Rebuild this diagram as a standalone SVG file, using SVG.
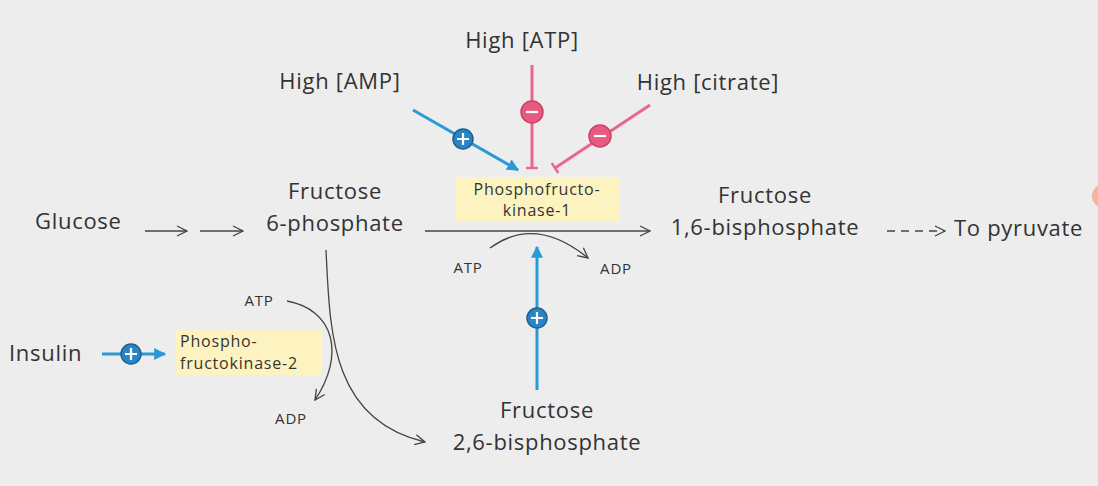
<svg xmlns="http://www.w3.org/2000/svg" width="1098" height="486" viewBox="0 0 1098 486">
<style>
text{font-family:"Open Sans","Noto Sans",sans-serif;fill:#333}
.big{font-size:22px;letter-spacing:0.7px}
.sm{font-size:15px;letter-spacing:0.8px}
.bx{font-size:16px;letter-spacing:0.8px}
.box{fill:#fdf3c0}
.ln{fill:none;stroke:#444;stroke-width:1.3}
.bl{fill:none;stroke:#2a9ad6;stroke-width:3}
.rd{fill:none;stroke:#e8678a;stroke-width:3}
.pc{fill:#2a85c4;stroke:#1d5f8f;stroke-width:1.5}
.mc{fill:#e85a80;stroke:#c94468;stroke-width:1.5}
.sym{stroke:#fff;stroke-width:2.2}
</style>
<defs>
<marker id="oa" viewBox="0 0 12 12" refX="11" refY="6" markerWidth="12" markerHeight="12" markerUnits="userSpaceOnUse" orient="auto"><path d="M1,1 L11,6 L1,11" fill="none" stroke="#444" stroke-width="1.3"/></marker>
<marker id="ba" viewBox="0 0 10 10" refX="9" refY="5" markerWidth="4" markerHeight="4" orient="auto"><path d="M0,0 L10,5 L0,10z" fill="#2a9ad6"/></marker>
<marker id="tb" viewBox="0 0 10 10" refX="5" refY="5" markerWidth="4" markerHeight="4" orient="auto"><path d="M5,0 L5,10" stroke="#e8678a" stroke-width="2"/></marker>
</defs>
<rect width="1098" height="486" fill="#ededed"/>
<circle cx="1104" cy="196" r="12" fill="#f5b79a"/>
<g id="connectors">
<path class="ln" d="M145,231 H187" marker-end="url(#oa)"/>
<path class="ln" d="M200,231 H243" marker-end="url(#oa)"/>
<path class="ln" d="M425,231 H650" marker-end="url(#oa)"/>
<path class="ln" d="M490,248 Q535,215 588,258" marker-end="url(#oa)"/>
<path class="ln" stroke-dasharray="8,6" d="M887,231 H945" marker-end="url(#oa)"/>
<path class="ln" d="M326,250 C330,330 330,420 425,442" marker-end="url(#oa)"/>
<path class="ln" d="M287,301 C335,310 345,355 315,400" marker-end="url(#oa)"/>
<path class="bl" d="M537,390 V247" marker-end="url(#ba)"/>
<path class="bl" d="M413,110 L518,170" marker-end="url(#ba)"/>
<path class="bl" d="M102,354 H165" marker-end="url(#ba)"/>
<path class="rd" d="M532,65 V168" marker-end="url(#tb)"/>
<path class="rd" d="M650,105 L555,168" marker-end="url(#tb)"/>
<g><circle class="pc" cx="537" cy="318" r="10"/><path class="sym" d="M531,318h12M537,312v12"/></g>
<g><circle class="pc" cx="463" cy="139" r="10"/><path class="sym" d="M457,139h12M463,133v12"/></g>
<g><circle class="pc" cx="131" cy="354" r="10"/><path class="sym" d="M125,354h12M131,348v12"/></g>
<g><circle class="mc" cx="532" cy="112" r="11"/><path class="sym" d="M526,112h12"/></g>
<g><circle class="mc" cx="600" cy="136" r="11"/><path class="sym" d="M594,136h12"/></g>
</g>
<g id="glucose"><text class="big" x="35" y="229">Glucose</text></g>
<g id="f6p"><text class="big" x="335" y="199" text-anchor="middle">Fructose</text><text class="big" x="335" y="231" text-anchor="middle">6-phosphate</text></g>
<g id="pfk1"><rect class="box" x="455" y="177" width="165" height="44"/><text class="bx" x="537" y="195" text-anchor="middle">Phosphofructo-</text><text class="bx" x="537" y="216" text-anchor="middle">kinase-1</text></g>
<g id="f16bp"><text class="big" x="765" y="203" text-anchor="middle">Fructose</text><text class="big" x="765" y="235" text-anchor="middle">1,6-bisphosphate</text></g>
<g id="pyruvate"><text class="big" x="954" y="236">To pyruvate</text></g>
<g id="amp"><text class="big" x="340" y="89" text-anchor="middle">High [AMP]</text></g>
<g id="atp"><text class="big" x="522" y="48" text-anchor="middle">High [ATP]</text></g>
<g id="citrate"><text class="big" x="708" y="90" text-anchor="middle">High [citrate]</text></g>
<g id="atp1"><text class="sm" x="468" y="273" text-anchor="middle">ATP</text></g>
<g id="adp1"><text class="sm" x="616" y="274" text-anchor="middle">ADP</text></g>
<g id="f26bp"><text class="big" x="547" y="418" text-anchor="middle">Fructose</text><text class="big" x="547" y="450" text-anchor="middle">2,6-bisphosphate</text></g>
<g id="insulin"><text class="big" x="9" y="361">Insulin</text></g>
<g id="pfk2"><rect class="box" x="176" y="330" width="146" height="45"/><text class="bx" x="180" y="347">Phospho-</text><text class="bx" x="180" y="369">fructokinase-2</text></g>
<g id="atp2"><text class="sm" x="259" y="306" text-anchor="middle">ATP</text></g>
<g id="adp2"><text class="sm" x="291" y="424" text-anchor="middle">ADP</text></g>
</svg>
